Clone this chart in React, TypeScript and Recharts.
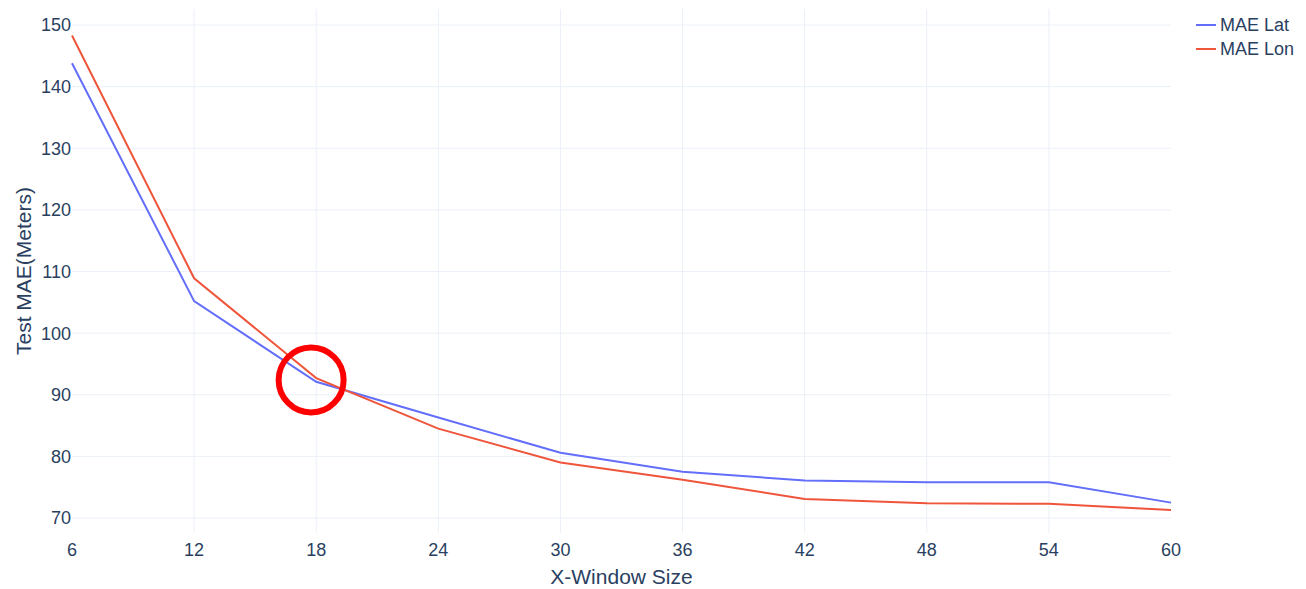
import { LineChart, Line, XAxis, YAxis, CartesianGrid, ReferenceDot } from 'recharts';

// window sizes and test MAE per coordinate
const windowSizes = [6, 12, 18, 24, 30, 36, 42, 48, 54, 60];
const maeLat = [143.8, 105.2, 92.1, 86.3, 80.6, 77.5, 76.1, 75.8, 75.8, 72.5];
const maeLon = [148.3, 108.9, 92.7, 84.5, 79.0, 76.2, 73.1, 72.4, 72.3, 71.3];

const xTicks = [6, 12, 18, 24, 30, 36, 42, 48, 54, 60];
const yTicks = [70, 80, 90, 100, 110, 120, 130, 140, 150];

// highlighted point (where the two curves cross)
const markX = 17.75;
const markY = 92.4;

const series = [
  { key: 'MAE Lat', values: maeLat, color: '#636efa' },
  { key: 'MAE Lon', values: maeLon, color: '#EF553B' },
];

const FONT = '"Liberation Sans", Arial, sans-serif';
const TEXT = '#2a3f5f';
const GRID = '#EBF0F8';

const data = windowSizes.map((w, i) => ({
  window: w,
  'MAE Lat': maeLat[i],
  'MAE Lon': maeLon[i],
}));

function YTitle() {
  return (
    <text
      x={31}
      y={271}
      transform="rotate(-90 31 271)"
      textAnchor="middle"
      fontSize={21}
      fill={TEXT}
      fontFamily={FONT}
    >
      Test MAE(Meters)
    </text>
  );
}

function XTitle() {
  return (
    <text x={621.5} y={584} textAnchor="middle" fontSize={21} fill={TEXT} fontFamily={FONT}>
      X-Window Size
    </text>
  );
}

function LegendBox() {
  return (
    <svg
      width={110}
      height={60}
      style={{ position: 'absolute', left: 1190, top: 10, overflow: 'visible' }}
    >
      {series.map((s, i) => (
        <g key={s.key}>
          <line x1={6} x2={26} y1={15 + i * 24} y2={15 + i * 24} stroke={s.color} strokeWidth={2} />
          <text
            x={30}
            y={15 + i * 24}
            dominantBaseline="central"
            fontSize={18}
            fill={TEXT}
            fontFamily={FONT}
          >
            {s.key}
          </text>
        </g>
      ))}
    </svg>
  );
}

export default function App() {
  return (
    <div style={{ position: 'absolute', left: 0, top: 0, width: 1306, height: 589, background: '#fff' }}>
      <LineChart
        width={1306}
        height={589}
        data={data}
        margin={{ top: 9, right: 135, bottom: 0, left: 12 }}
        style={{ fontFamily: FONT }}
      >
        <CartesianGrid
          stroke={GRID}
          strokeWidth={1}
          horizontalValues={yTicks}
          verticalValues={[12, 18, 24, 30, 36, 42, 48, 54]}
        />
        <XAxis
          dataKey="window"
          type="number"
          domain={[6, 60]}
          ticks={xTicks}
          axisLine={false}
          tickLine={false}
          tickSize={0}
          tickMargin={10}
          height={56}
          tick={{ fill: TEXT, fontSize: 18, fontFamily: FONT }}
          label={<XTitle />}
        />
        <YAxis
          type="number"
          domain={[67.57, 152.6]}
          allowDataOverflow
          ticks={yTicks}
          axisLine={false}
          tickLine={false}
          tickSize={0}
          tickMargin={1}
          width={60}
          tick={{ fill: TEXT, fontSize: 18, fontFamily: FONT }}
          label={<YTitle />}
        />
        {series.map((s) => (
          <Line
            key={s.key}
            type="linear"
            dataKey={s.key}
            stroke={s.color}
            strokeWidth={2}
            dot={false}
            activeDot={false}
            isAnimationActive={false}
          />
        ))}
        <ReferenceDot x={markX} y={markY} r={32.5} fill="none" stroke="#ff0000" strokeWidth={6} />
      </LineChart>
      <LegendBox />
    </div>
  );
}
